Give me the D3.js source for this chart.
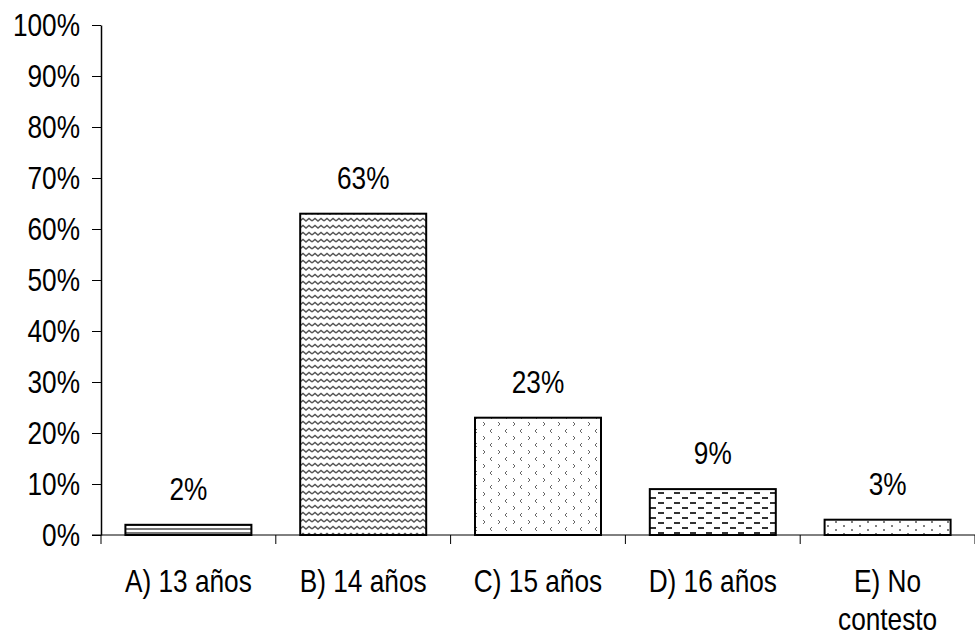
<!DOCTYPE html>
<html><head><meta charset="utf-8">
<script src="https://cdn.jsdelivr.net/npm/d3@7"></script>
<style>body{margin:0;background:#fff}svg{display:block}</style>
</head><body>
<script>
const categories = ["A) 13 años", "B) 14 años", "C) 15 años", "D) 16 años", "E) No contesto"];
const values = [2, 63, 23, 9, 3];
const valueLabels = ["2%", "63%", "23%", "9%", "3%"];
const patternIds = ["pA", "pB", "pC", "pD", "pE"];
const yTicks = [0,10,20,30,40,50,60,70,80,90,100];

const W = 975, H = 641;
const m = {left: 101, right: 0, top: 25, bottom: 106};
const svg = d3.select("body").append("svg").attr("width", W).attr("height", H);
const defs = svg.append("defs");

// Patterns
const pA = defs.append("pattern").attr("id","pA").attr("patternUnits","userSpaceOnUse").attr("width",8).attr("height",4);
pA.append("rect").attr("width",8).attr("height",4).attr("fill","#fff");
pA.append("rect").attr("y",0).attr("width",8).attr("height",2).attr("fill","#777");

const pB = defs.append("pattern").attr("id","pB").attr("patternUnits","userSpaceOnUse").attr("width",12).attr("height",7);
pB.append("rect").attr("width",12).attr("height",7).attr("fill","#fff");
pB.append("path").attr("d","M0,4 L3,1.5 L6,4 L9,1.5 L12,4").attr("fill","none").attr("stroke","#555").attr("stroke-width",1.4);

const pC = defs.append("pattern").attr("id","pC").attr("patternUnits","userSpaceOnUse").attr("width",15).attr("height",14);
pC.append("rect").attr("width",15).attr("height",14).attr("fill","#fff");
pC.append("path").attr("d","M3,2 L5,4 L3,6").attr("fill","none").attr("stroke","#666").attr("stroke-width",1);
pC.append("path").attr("d","M12,9 L10,11 L12,13").attr("fill","none").attr("stroke","#666").attr("stroke-width",1);

const pD = defs.append("pattern").attr("id","pD").attr("patternUnits","userSpaceOnUse").attr("width",16).attr("height",10);
pD.append("rect").attr("width",16).attr("height",10).attr("fill","#fff");
pD.append("rect").attr("x",2).attr("y",2).attr("width",6).attr("height",2).attr("fill","#333");
pD.append("rect").attr("x",10).attr("y",7).attr("width",6).attr("height",2).attr("fill","#333");

const pE = defs.append("pattern").attr("id","pE").attr("patternUnits","userSpaceOnUse").attr("width",16).attr("height",8);
pE.append("rect").attr("width",16).attr("height",8).attr("fill","#fff");
pE.append("circle").attr("cx",4).attr("cy",2).attr("r",1).attr("fill","#555");
pE.append("circle").attr("cx",12).attr("cy",6).attr("r",1).attr("fill","#555");

const x = d3.scaleBand().domain(categories).range([m.left, W - m.right]).paddingInner(0).paddingOuter(0);
const y = d3.scaleLinear().domain([0,100]).range([H - m.bottom, m.top]);

const font = "'Liberation Sans', Arial, sans-serif";
const fs = 32;
const sx = 0.82; // horizontal condensing to mimic a narrow face

// y axis
const yAxis = svg.append("g").attr("transform",`translate(${m.left},0)`)
  .call(d3.axisLeft(y).tickValues(yTicks).tickFormat(d => d + "%").tickSize(9).tickPadding(12).tickSizeOuter(0));
yAxis.select(".domain").attr("stroke","#000").attr("stroke-width",1.5);
yAxis.selectAll(".tick line").attr("stroke","#000");
yAxis.selectAll("text").attr("font-family",font).attr("font-size",fs).attr("fill","#000")
  .attr("x", -21 / sx).attr("transform", `scale(${sx},1)`);

// bars
const bw = 126;
svg.append("g").selectAll("rect").data(values).join("rect")
  .attr("x",(d,i)=> x(categories[i]) + x.bandwidth()/2 - bw/2)
  .attr("y", d => y(d))
  .attr("width", bw)
  .attr("height", d => y(0) - y(d))
  .attr("fill",(d,i)=>`url(#${patternIds[i]})`)
  .attr("stroke","#000").attr("stroke-width",2);

// x axis
const xAxis = svg.append("g").attr("transform",`translate(0,${y(0)})`);
xAxis.append("line").attr("x1", m.left - 9).attr("x2", W).attr("y1",0).attr("y2",0).attr("stroke","#000").attr("stroke-width",1);
const bounds = categories.map(c => x(c)).concat([x(categories[categories.length-1]) + x.bandwidth()]);
xAxis.selectAll("line.t").data(bounds).join("line").attr("class","t")
  .attr("x1",d=>d).attr("x2",d=>d).attr("y1",0).attr("y2",9).attr("stroke","#000");

// x labels
const xl = svg.append("g");
categories.forEach((c,i) => {
  const cx = x(c) + x.bandwidth()/2;
  let lines = [c];
  if (c === "E) No contesto") lines = ["E) No", "contesto"];
  lines.forEach((t,j) => {
    xl.append("text").attr("transform", `translate(${cx},${592 + j*38}) scale(${sx},1)`)
      .attr("text-anchor","middle")
      .attr("font-family",font).attr("font-size",fs).attr("fill","#000").text(t);
  });
});

// value labels
svg.append("g").selectAll("text").data(values).join("text")
  .attr("transform",(d,i)=> `translate(${x(categories[i]) + x.bandwidth()/2},${y(d) - 25}) scale(${sx},1)`)
  .attr("text-anchor","middle")
  .attr("font-family",font).attr("font-size",fs).attr("fill","#000")
  .text((d,i)=>valueLabels[i]);
</script>
</body></html>
